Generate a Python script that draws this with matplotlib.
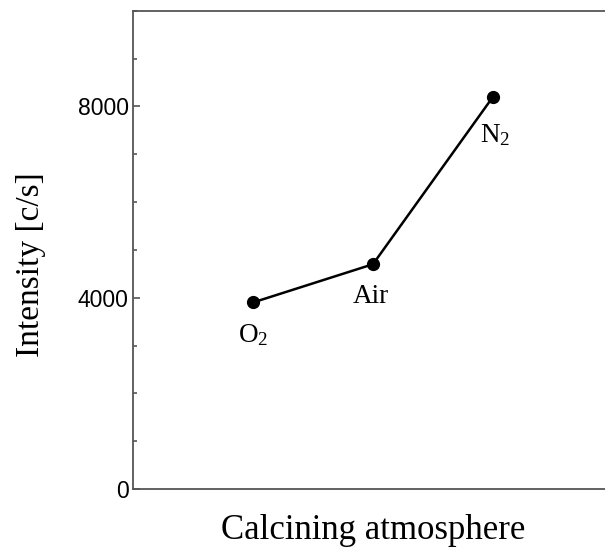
import matplotlib.pyplot as plt
from matplotlib.ticker import MultipleLocator

# data
atmospheres = ['$\\mathregular{O_2}$', 'Air', '$\\mathregular{N_2}$']
intensity = [3900, 4700, 8200]
# label offsets (points) relative to each marker
label_dx = [0, -1.5, 1.5]
label_dy = [-14, -14, -18]

fig = plt.figure(figsize=(6.05, 5.52), dpi=100)
ax = fig.add_axes([0.2198, 0.1141, 0.7934, 0.8665])

x = range(1, len(intensity) + 1)
ax.plot(x, intensity, color='black', linewidth=1.8, marker='o', markersize=8.5)

for xi, yi, lab, dx, dy in zip(x, intensity, atmospheres, label_dx, label_dy):
    ax.annotate(lab, (xi, yi), xytext=(dx, dy), textcoords='offset points',
                ha='center', va='top', fontsize=19.5, family='Liberation Serif')

ax.set_xlim(0, 4)
ax.set_ylim(0, 10000)
ax.set_xticks([])
ax.yaxis.set_major_locator(MultipleLocator(4000))
ax.yaxis.set_minor_locator(MultipleLocator(1000))
ax.tick_params(axis='y', which='major', direction='in', length=5, width=1.2, color='#555555',
               labelsize=16.5, pad=3)
ax.tick_params(axis='y', which='minor', direction='in', length=3, width=1.2, color='#555555')
for lab in ax.get_yticklabels():
    lab.set_family('Liberation Sans')

for s in ax.spines.values():
    s.set_color('#555555')
    s.set_linewidth(1.3)

ax.set_xlabel('Calcining atmosphere', family='Liberation Serif', fontsize=25, labelpad=18)
ax.set_ylabel('Intensity [c/s]', family='Liberation Serif', fontsize=24)
ax.yaxis.set_label_coords(-0.182, 0.469)

fig.savefig('out.png', dpi=100)
